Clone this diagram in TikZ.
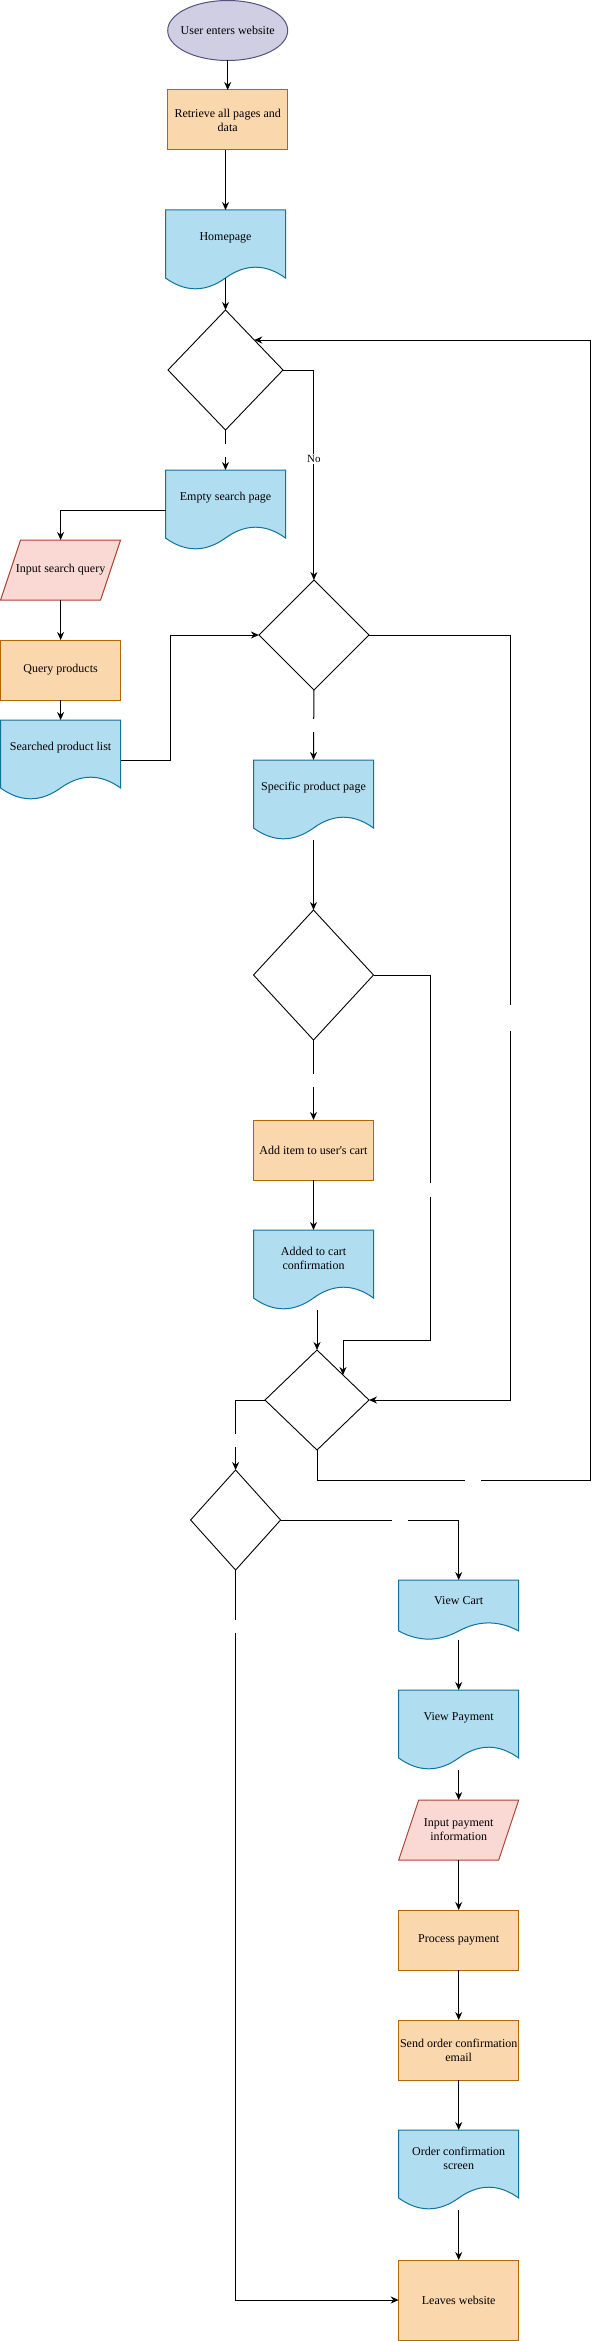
\documentclass[tikz,border=0pt]{standalone}
\usepackage{fontspec}
\setmainfont{Liberation Serif}
\usetikzlibrary{arrows.meta,shapes.geometric,calc}
\definecolor{ellfill}{HTML}{D0CEE2}
\definecolor{elldraw}{HTML}{56517E}
\definecolor{procfill}{HTML}{FAD7AC}
\definecolor{procdraw}{HTML}{B46504}
\definecolor{docfill}{HTML}{B1DDF0}
\definecolor{docdraw}{HTML}{10739E}
\definecolor{iofill}{HTML}{FAD9D5}
\definecolor{iodraw}{HTML}{AE4132}
\newcommand\docshape[5]{% name, cx, top, h, text
  \path[docsty] ({#2-60},{#3}) -- ({#2+60},{#3}) -- ({#2+60},{#3+0.85*#4})
    .. controls ({#2+40},{#3+0.67*#4}) and ({#2+20},{#3+0.67*#4}) .. ({#2},{#3+0.85*#4})
    .. controls ({#2-20},{#3+1.03*#4}) and ({#2-40},{#3+1.03*#4}) .. ({#2-60},{#3+0.85*#4}) -- cycle;
  \node[box,minimum height=#4] (#1) at ({#2},{#3+0.5*#4}) {};
  \node[box] (#1-t) at ({#2},{#3+0.35*#4}) {#5};
  \coordinate (#1-m) at ({#2},{#3+0.85*#4});
}
\newcommand\ioshape[4]{% name, cx, cy, text
  \path[iosty] ({#2-60},{#3+30}) -- ({#2-40},{#3-30}) -- ({#2+60},{#3-30}) -- ({#2+40},{#3+30}) -- cycle;
  \node[box,minimum height=60] (#1) at ({#2},{#3}) {#4};
}
\tikzset{
  box/.style={rectangle, minimum width=120, inner sep=0, outer sep=0, align=center,
    font=\fontsize{12}{14}\selectfont},
  proc/.style={box, draw=procdraw, fill=procfill, minimum height=60, line width=1pt},
  ell/.style={ellipse, draw=elldraw, fill=ellfill, minimum width=120, minimum height=60,
    inner sep=0, outer sep=0, line width=1pt},
  docsty/.style={draw=docdraw, fill=docfill, line width=1pt},
  iosty/.style={draw=iodraw, fill=iofill, line width=1pt},
  dia/.style={diamond, draw=black, fill=white, inner sep=0, outer sep=0, line width=0.9pt},
  arr/.style={-{Stealth[length=8pt,width=7pt]}, line width=1pt, black},
  gapv/.style={fill=white, inner sep=0, minimum width=6, minimum height=13},
  gaph/.style={fill=white, inner sep=0, minimum width=16, minimum height=6},
  lbl/.style={fill=white, inner sep=1, font=\fontsize{11}{13}\selectfont},
}
\begin{document}
\begin{tikzpicture}[x=1pt,y=-1pt]
\useasboundingbox (0,0) rectangle (599,2341);
% nodes
\node[ell] (start) at (227.7,30.5) {};
\node[box] (start-t) at (start.center) {User enters website};
\node[proc] (retr) at (227.7,120) {Retrieve all pages and\\data};
\docshape{home}{225.5}{210}{80}{Homepage}
\node[dia, minimum width=115, minimum height=120] (d1) at (225.5,370) {};
\docshape{empty}{225.5}{470}{80}{Empty search page}
\ioshape{inq}{60.6}{570}{Input search query}
\node[proc] (qp) at (60.6,670) {Query products};
\docshape{spl}{60.6}{720}{80}{Searched product list}
\node[dia, minimum width=110, minimum height=110] (d2) at (313.9,635) {};
\docshape{spp}{313.5}{760}{80}{Specific product page}
\node[dia, minimum width=120, minimum height=130] (d3) at (313.5,975) {};
\node[proc] (add) at (313.5,1150) {Add item to user\textquotesingle s cart};
\docshape{acc}{313.5}{1230}{80}{Added to cart\\confirmation}
\node[dia, minimum width=104, minimum height=100] (d4) at (317,1400) {};
\node[dia, minimum width=90, minimum height=100] (d5) at (235.6,1520) {};
\docshape{vc}{458.7}{1580}{60}{View Cart}
\docshape{vp}{458.7}{1690}{80}{View Payment}
\ioshape{ipi}{458.7}{1830}{Input payment\\information}
\node[proc] (pp) at (458.7,1940) {Process payment};
\node[proc] (soc) at (458.7,2050) {Send order confirmation\\email};
\docshape{ocs}{458.7}{2130}{80}{Order confirmation\\screen}
\node[proc, minimum height=80] (leave) at (458.7,2300) {Leaves website};
% edges
\draw[arr] (start.south) -- (retr.north);
\draw[arr] (retr.south -| home.north) -- (home.north);
\draw[arr] (home-m) -- (d1.north);
\draw[arr] (d1.south) -- node[gapv] (g1) {} (empty.north);
\draw[arr] (empty.west) -| (inq.north);
\draw[arr] (d1.east) -| node[pos=0.712, lbl] (no) {No} (d2.north);
\draw[arr] (inq.south) -- (qp.north);
\draw[arr] (qp.south) -- (spl.north);
\draw[arr] (spl.east) -- ++(50,0) |- (d2.west);
\draw[arr] (d2.south) -- node[gapv] (g2) {} (spp.north);
\draw[arr] (d2.east) -- ++(141.8,0) |- node[pos=0.25, gapv, minimum height=26] (g3) {} (d4.east);
\draw[arr] (spp.south) -- (d3.north);
\draw[arr] (d3.south) -- node[gapv] (g4) {} (add.north);
\draw[arr] (d3.east) -- ++(57,0) -- node[pos=0.589, gapv] (g5) {} ++(0,365) -| (d4.north east);
\draw[arr] (add.south) -- (acc.north);
\draw[arr] (acc.south -| d4.north) -- (d4.north);
\draw[arr] (d4.west) -| node[pos=0.786, gapv] (g6) {} (d5.north);
\draw[arr] (d4.south) |- node[pos=0.785, gaph] (g7) {} (590.4,1480) |- (d1.north east);
\draw[arr] (d5.east) -| node[pos=0.335, gaph] (g8) {} (vc.north);
\draw[arr] (d5.south) |- node[pos=0.039, gapv] (g9) {} (leave.west);
\draw[arr] (vc.south) -- (vp.north);
\draw[arr] (vp.south) -- (ipi.north);
\draw[arr] (ipi.south) -- (pp.north);
\draw[arr] (pp.south) -- (soc.north);
\draw[arr] (soc.south) -- (ocs.north);
\draw[arr] (ocs.south) -- (leave.north);
\end{tikzpicture}
\end{document}
